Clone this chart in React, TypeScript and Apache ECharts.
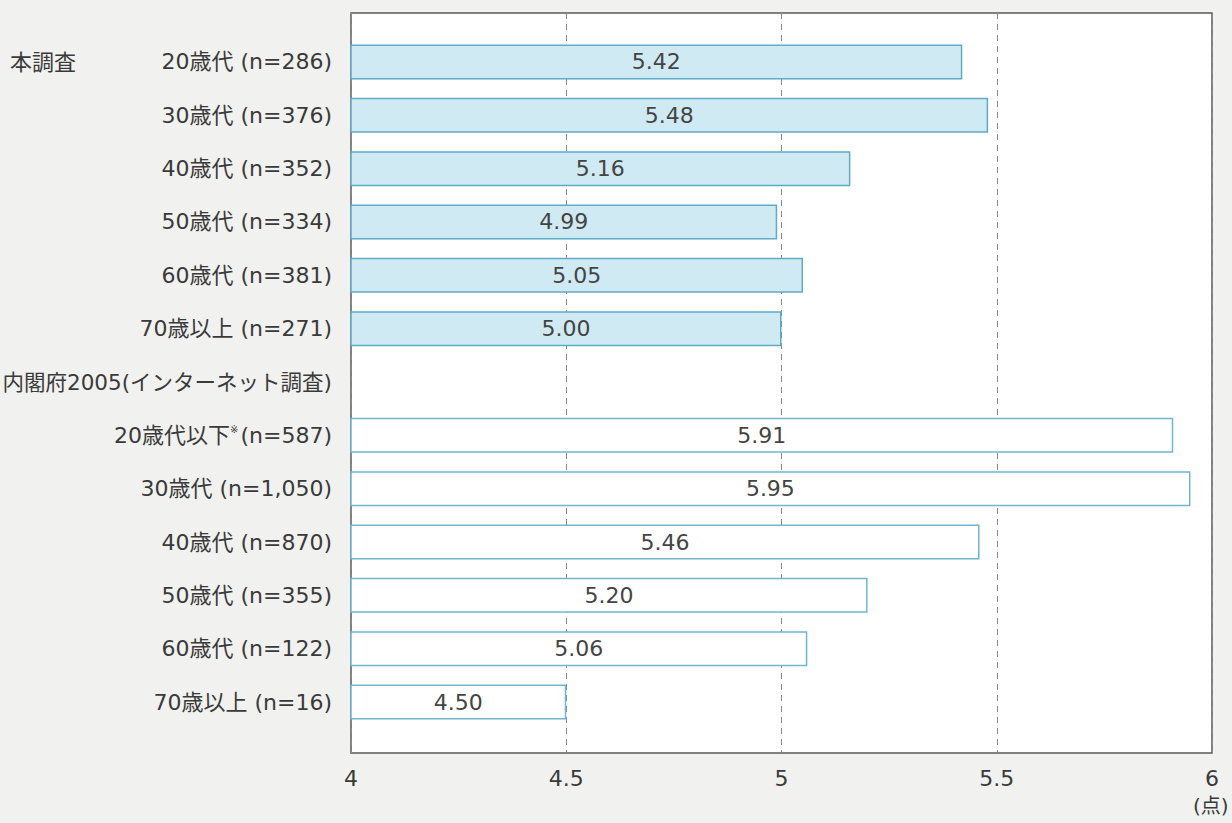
import React, { useEffect, useRef } from "react";
import * as echarts from "echarts";

const categories = [
  "20歳代 (n=286)",
  "30歳代 (n=376)",
  "40歳代 (n=352)",
  "50歳代 (n=334)",
  "60歳代 (n=381)",
  "70歳以上 (n=271)",
  "内閣府2005(インターネット調査)",
  "20歳代以下※(n=587)",
  "30歳代 (n=1,050)",
  "40歳代 (n=870)",
  "50歳代 (n=355)",
  "60歳代 (n=122)",
  "70歳以上 (n=16)",
];

const surveyValues = [5.42, 5.48, 5.16, 4.99, 5.05, 5.0, null, null, null, null, null, null, null];
const cabinetValues = [null, null, null, null, null, null, null, 5.91, 5.95, 5.46, 5.2, 5.06, 4.5];

const xMin = 4;
const xMax = 6;
const xInterval = 0.5;
const groupLabel = "本調査";
const unitLabel = "(点)";

const FONT = "'DejaVu Sans', 'Noto Sans CJK JP', sans-serif";
const TEXT = "#3a3a3a";

export default function App() {
  const ref = useRef<HTMLDivElement>(null);
  useEffect(() => {
    document.body.style.margin = "0";
    const chart = echarts.init(ref.current!, null, { renderer: "svg" });
    const labelStyle = {
      show: true,
      position: "inside",
      color: "#444",
      fontSize: 22,
      fontFamily: FONT,
      formatter: (p: any) => (p.value == null ? "" : Number(p.value).toFixed(2)),
    };
    chart.setOption({
      animation: false,
      backgroundColor: "#f1f1ef",
      textStyle: { fontFamily: FONT },
      grid: [
        {
          left: 351,
          width: 861,
          top: 35.3,
          height: 693.4,
          show: false,
          containLabel: false,
          outerBoundsMode: "none",
        },
        {
          left: 351,
          width: 861,
          top: 13,
          height: 740,
          show: true,
          containLabel: false,
          outerBoundsMode: "none",
          backgroundColor: "#ffffff",
          borderColor: "#5a5a5a",
          borderWidth: 1.5,
        },
      ],
      xAxis: [
        { gridIndex: 0, type: "value", min: xMin, max: xMax, interval: xInterval, show: false },
        {
          gridIndex: 1,
          type: "value",
          min: xMin,
          max: xMax,
          interval: xInterval,
          axisLine: { show: false },
          axisTick: { show: false },
          axisLabel: {
            margin: 14,
            fontSize: 22,
            color: TEXT,
            fontFamily: FONT,
            formatter: (v: number) => String(v),
          },
          splitLine: { show: true, lineStyle: { type: [6, 5], color: "#8a8a8a", width: 1 } },
        },
      ],
      yAxis: [
        {
          gridIndex: 0,
          type: "category",
          data: categories,
          inverse: true,
          axisLine: { show: false },
          axisTick: { show: false },
          axisLabel: {
            margin: 19,
            fontSize: 22,
            color: TEXT,
            fontFamily: FONT,
            formatter: (v: string) => {
              if (v.includes("※")) return v.replace("※", "{s|※}");
              if (v.startsWith("内閣府")) return "{h|" + v + "}";
              return v;
            },
            rich: {
              s: { fontSize: 10, verticalAlign: "top", color: TEXT, padding: [0, 2, 8, 0] },
              h: { fontSize: 21.5, color: TEXT, fontFamily: FONT },
            },
          },
        },
        { gridIndex: 1, type: "value", show: false, min: 0, max: 1 },
      ],
      series: [
        {
          type: "bar",
          xAxisIndex: 0,
          yAxisIndex: 0,
          data: surveyValues,
          barWidth: 35,
          barGap: "-100%",
          itemStyle: { color: "#d0eaf4", borderColor: "#5fabc6", borderWidth: 1.5 },
          label: labelStyle,
        },
        {
          type: "bar",
          xAxisIndex: 0,
          yAxisIndex: 0,
          data: cabinetValues,
          barWidth: 35,
          barGap: "-100%",
          itemStyle: { color: "#ffffff", borderColor: "#6fb6d0", borderWidth: 1.5 },
          label: labelStyle,
        },
      ],
      graphic: [
        {
          type: "text",
          left: 10,
          top: 49,
          style: { text: groupLabel, fontSize: 22, fill: TEXT, fontFamily: "'Noto Sans CJK JP', sans-serif" },
        },
        {
          type: "text",
          left: 1193,
          top: 796,
          style: { text: unitLabel, fontSize: 20, fill: TEXT, fontFamily: FONT },
        },
      ],
    });
    return () => chart.dispose();
  }, []);
  return <div ref={ref} style={{ width: 1232, height: 823 }} />;
}
